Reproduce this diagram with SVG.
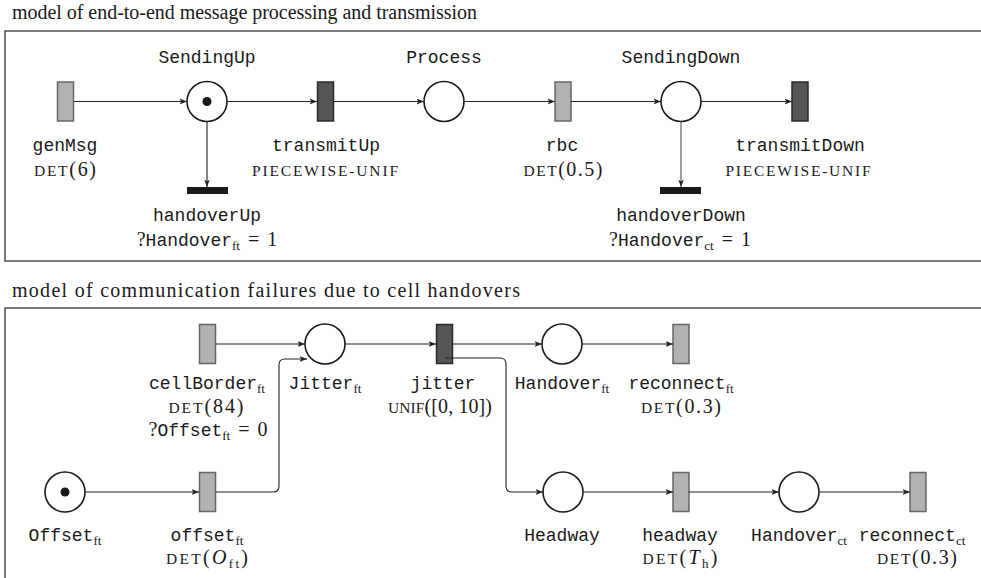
<svg xmlns="http://www.w3.org/2000/svg" width="981" height="578" viewBox="0 0 981 578">
<defs>
<marker id="ah" viewBox="0 0 10 10" refX="10" refY="5" markerWidth="7.5" markerHeight="7.5" markerUnits="userSpaceOnUse" orient="auto">
<path d="M0,1.2 L10,5 L0,8.8 L2.6,5 z" fill="#222"/>
</marker>
<style>
.frame{fill:none;stroke:#333;stroke-width:1.3}
.place{fill:#fff;stroke:#1a1a1a;stroke-width:1.6}
.tok{fill:#1a1a1a}
.tl{fill:#b2b2b5;stroke:#666;stroke-width:1.5}
.td{fill:#555;stroke:#2a2a2a;stroke-width:1.5}
.tb{fill:#1a1a1a}
.arc{fill:none;stroke:#222;stroke-width:1.1;marker-end:url(#ah)}
text{fill:#1a1a1a}
.mono{font-family:"Liberation Mono","DejaVu Sans Mono",monospace;font-size:18px}
.serif{font-family:"Liberation Serif","DejaVu Serif",serif;font-size:20px}
.cap{font-family:"Liberation Serif","DejaVu Serif",serif;font-size:20px}
.sc{font-family:"Liberation Serif","DejaVu Serif",serif;font-size:15.5px}
.sub{font-family:"Liberation Serif","DejaVu Serif",serif;font-size:13px}
.it{font-style:italic}
.c{text-anchor:middle}
</style>
</defs>
<rect width="981" height="578" fill="#fff"/>

<g id="panel-top">
<text class="cap" x="12" y="19" textLength="465" lengthAdjust="spacing">model of end-to-end message processing and transmission</text>
<rect class="frame" x="5" y="31" width="990" height="230"/>
</g>
<g id="panel-bottom">
<text class="cap" x="12" y="297" textLength="508" lengthAdjust="spacing">model of communication failures due to cell handovers</text>
<rect class="frame" x="5" y="308" width="990" height="290"/>
</g>

<g id="genMsg">
<rect class="tl" x="57.5" y="82" width="16" height="39"/>
<text class="mono c" x="65" y="151">genMsg</text>
<text class="serif c" x="65" y="176" textLength="62" lengthAdjust="spacing"><tspan class="sc">DET</tspan>(6)</text>
</g>
<g id="SendingUp">
<circle class="place" cx="207" cy="101.5" r="20"/>
<circle class="tok" cx="207" cy="101.5" r="4.5"/>
<text class="mono c" x="207" y="63">SendingUp</text>
</g>
<g id="transmitUp">
<rect class="td" x="317.5" y="82" width="16" height="39"/>
<text class="mono c" x="326" y="151">transmitUp</text>
<text class="serif c" x="325" y="176" textLength="146" lengthAdjust="spacing"><tspan class="sc">PIECEWISE-UNIF</tspan></text>
</g>
<g id="handoverUp">
<rect class="tb" x="187" y="187" width="41" height="7"/>
<text class="mono c" x="207" y="221">handoverUp</text>
<text class="serif c" x="207" y="246">?<tspan class="mono">Handover</tspan><tspan class="sub" dy="4">ft</tspan><tspan dy="-4" dx="8">=</tspan><tspan dx="8">1</tspan></text>
</g>
<g id="Process">
<circle class="place" cx="444" cy="101.5" r="20"/>
<text class="mono c" x="444" y="63">Process</text>
</g>
<g id="rbc">
<rect class="tl" x="555" y="82" width="16" height="39"/>
<text class="mono c" x="562" y="151">rbc</text>
<text class="serif c" x="563" y="176" textLength="79" lengthAdjust="spacing"><tspan class="sc">DET</tspan>(0.5)</text>
</g>
<g id="SendingDown">
<circle class="place" cx="681" cy="101.5" r="20"/>
<text class="mono c" x="681" y="63">SendingDown</text>
</g>
<g id="transmitDown">
<rect class="td" x="792" y="82" width="16" height="39"/>
<text class="mono c" x="800" y="151">transmitDown</text>
<text class="serif c" x="798" y="176" textLength="145" lengthAdjust="spacing"><tspan class="sc">PIECEWISE-UNIF</tspan></text>
</g>
<g id="handoverDown">
<rect class="tb" x="660" y="187" width="41" height="7"/>
<text class="mono c" x="681" y="221">handoverDown</text>
<text class="serif c" x="680" y="246">?<tspan class="mono">Handover</tspan><tspan class="sub" dy="4">ct</tspan><tspan dy="-4" dx="8">=</tspan><tspan dx="8">1</tspan></text>
</g>

<g id="cellBorder">
<rect class="tl" x="199.5" y="324.5" width="16" height="39"/>
<text class="mono c" x="207" y="389">cellBorder<tspan class="sub" dy="4">ft</tspan></text>
<text class="serif c" x="206" y="413" textLength="75" lengthAdjust="spacing"><tspan class="sc">DET</tspan>(84)</text>
<text class="serif c" x="208" y="436">?<tspan class="mono">Offset</tspan><tspan class="sub" dy="4">ft</tspan><tspan dy="-4" dx="8">=</tspan><tspan dx="8">0</tspan></text>
</g>
<g id="Jitter">
<circle class="place" cx="325" cy="344" r="20"/>
<text class="mono c" x="325" y="389">Jitter<tspan class="sub" dy="4">ft</tspan></text>
</g>
<g id="jitter">
<rect class="td" x="436.5" y="324.5" width="16" height="39"/>
<text class="mono c" x="443" y="389">jitter</text>
<text class="serif c" x="440" y="413" textLength="104" lengthAdjust="spacing"><tspan class="sc">UNIF</tspan>([0, 10])</text>
</g>
<g id="Handover_ft">
<circle class="place" cx="562" cy="344" r="20"/>
<text class="mono c" x="562" y="389">Handover<tspan class="sub" dy="4">ft</tspan></text>
</g>
<g id="reconnect_ft">
<rect class="tl" x="673" y="324.5" width="16" height="39"/>
<text class="mono c" x="681" y="389">reconnect<tspan class="sub" dy="4">ft</tspan></text>
<text class="serif c" x="681" y="413" textLength="80" lengthAdjust="spacing"><tspan class="sc">DET</tspan>(0.3)</text>
</g>
<g id="Offset">
<circle class="place" cx="65" cy="492" r="20"/>
<circle class="tok" cx="65" cy="492" r="4.5"/>
<text class="mono c" x="65" y="541">Offset<tspan class="sub" dy="4">ft</tspan></text>
</g>
<g id="offset">
<rect class="tl" x="199.5" y="472.5" width="16" height="39"/>
<text class="mono c" x="207" y="541">offset<tspan class="sub" dy="4">ft</tspan></text>
<text class="serif c" x="207" y="564" textLength="82" lengthAdjust="spacing"><tspan class="sc">DET</tspan>(<tspan class="it">O</tspan><tspan class="sub" dy="4">ft</tspan><tspan dy="-4">)</tspan></text>
</g>
<g id="Headway">
<circle class="place" cx="563" cy="492" r="20"/>
<text class="mono c" x="562" y="541">Headway</text>
</g>
<g id="headway">
<rect class="tl" x="673" y="472.5" width="16" height="39"/>
<text class="mono c" x="680" y="541">headway</text>
<text class="serif c" x="680" y="564" textLength="75" lengthAdjust="spacing"><tspan class="sc">DET</tspan>(<tspan class="it">T</tspan><tspan class="sub" dy="4">h</tspan><tspan dy="-4">)</tspan></text>
</g>
<g id="Handover_ct">
<circle class="place" cx="799" cy="492" r="20"/>
<text class="mono c" x="799" y="541">Handover<tspan class="sub" dy="4">ct</tspan></text>
</g>
<g id="reconnect_ct">
<rect class="tl" x="910" y="472.5" width="16" height="39"/>
<text class="mono c" x="912" y="541">reconnect<tspan class="sub" dy="4">ct</tspan></text>
<text class="serif c" x="917" y="564" textLength="80" lengthAdjust="spacing"><tspan class="sc">DET</tspan>(0.3)</text>
</g>

<g id="connectors">
<path class="arc" d="M74,101.5 H187"/>
<path class="arc" d="M227,101.5 H317"/>
<path class="arc" d="M334,101.5 H424"/>
<path class="arc" d="M464,101.5 H555"/>
<path class="arc" d="M571,101.5 H661"/>
<path class="arc" d="M701,101.5 H792"/>
<path class="arc" d="M207,121.5 V187"/>
<path class="arc" d="M681,121.5 V187" style="stroke:#555"/>
<path class="arc" d="M216,344 H305"/>
<path class="arc" d="M345,344 H436"/>
<path class="arc" d="M452.5,344 H542"/>
<path class="arc" d="M582,344 H673"/>
<path class="arc" d="M85,492 H199"/>
<path class="arc" d="M216,492 H273 Q279,492 279,486 V365 Q279,359 285,359 H307"/>
<path class="arc" d="M445,358 H500 Q506,358 506,364 V486 Q506,492 512,492 H543"/>
<path class="arc" d="M583,492 H673"/>
<path class="arc" d="M689,492 H779"/>
<path class="arc" d="M819,492 H910"/>
</g>
</svg>
